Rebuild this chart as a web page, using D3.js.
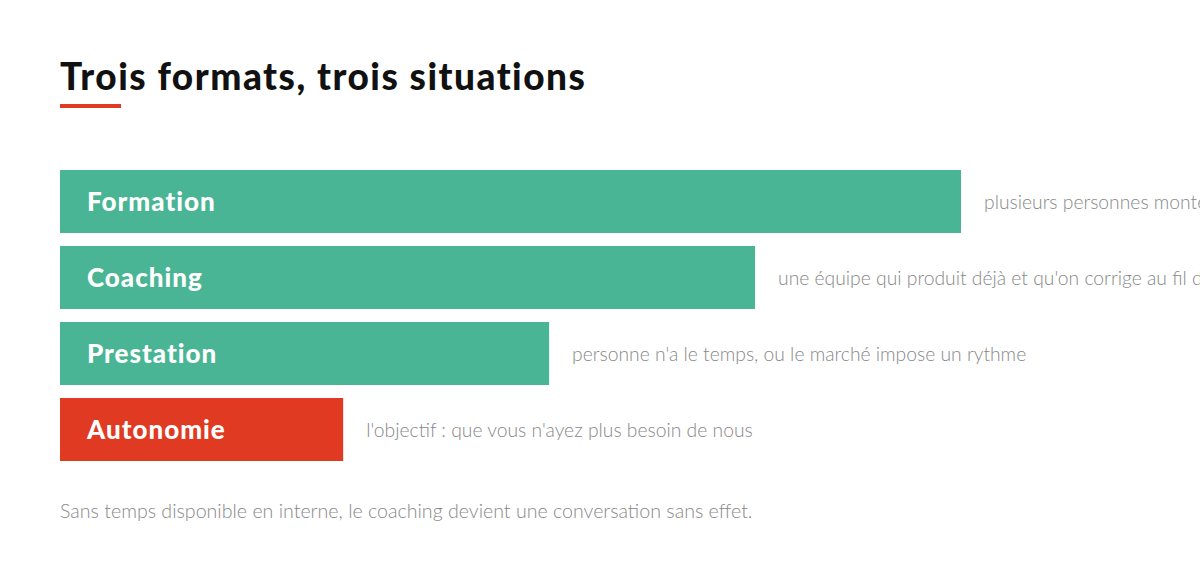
<!DOCTYPE html>
<html><head><meta charset="utf-8">
<script src="https://cdn.jsdelivr.net/npm/d3@7"></script>
<style>
html,body{margin:0;padding:0;background:#fff;overflow:hidden;}
</style></head>
<body>
<svg id="chart" width="1200" height="568"></svg>
<script>
const categories = ["Formation", "Coaching", "Prestation", "Autonomie"];
const values = [35, 27, 19, 11];
const notes = [
  "plusieurs personnes montent en compétence",
  "une équipe qui produit déjà et qu'on corrige au fil de l'eau",
  "personne n'a le temps, ou le marché impose un rythme",
  "l'objectif : que vous n'ayez plus besoin de nous"
];
const highlight = ["Autonomie"];
const title = "Trois formats, trois situations";
const footnote = "Sans temps disponible en interne, le coaching devient une conversation sans effet.";

const svg = d3.select("#chart");
const green = "#4ab594", red = "#e03a22";
const font = "Lato, 'Noto Sans', sans-serif";

svg.append("text").attr("x", 60).attr("y", 90)
  .attr("font-family", font).attr("font-weight", 900).attr("font-size", 37)
  .attr("letter-spacing", 1.5)
  .attr("fill", "#111").text(title);
svg.append("rect").attr("x", 60).attr("y", 104).attr("width", 61).attr("height", 4).attr("fill", red);

const x = d3.scaleLinear().domain([0, 35]).range([60, 961]);
const y = d3.scaleBand().domain(categories).range([170, 461]).paddingInner(13/76).paddingOuter(0);

const g = svg.append("g");
const rows = g.selectAll("g.row").data(categories).join("g").attr("class", "row");
rows.append("rect")
  .attr("x", x(0)).attr("y", d => y(d))
  .attr("width", (d, i) => x(values[i]) - x(0))
  .attr("height", y.bandwidth())
  .attr("fill", d => highlight.includes(d) ? red : green);
rows.append("text")
  .attr("x", x(0) + 27).attr("y", d => y(d) + 41)
  .attr("font-family", font).attr("font-weight", 900).attr("font-size", 26)
  .attr("letter-spacing", 1)
  .attr("fill", "#fff").text(d => d);
rows.append("text")
  .attr("x", (d, i) => x(values[i]) + 23).attr("y", d => y(d) + 39)
  .attr("font-family", font).attr("font-weight", 300).attr("font-size", 19.3)
  .attr("fill", "#888").text((d, i) => notes[i]);

svg.append("text").attr("x", 60).attr("y", 518)
  .attr("font-family", font).attr("font-weight", 300).attr("font-size", 19.6)
  .attr("fill", "#888").text(footnote);
</script>
</body></html>
